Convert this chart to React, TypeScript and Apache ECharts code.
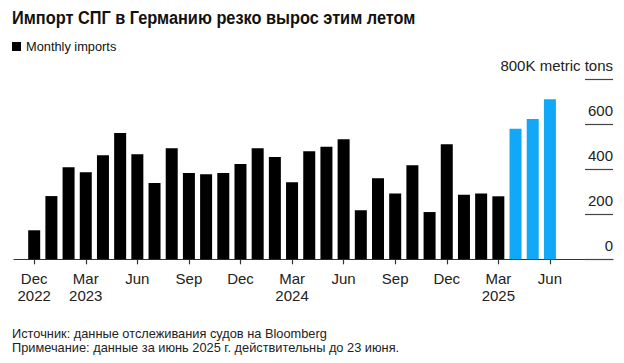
import React, { useEffect, useRef } from "react";
import * as echarts from "echarts";

const title = "Импорт СПГ в Германию резко вырос этим летом";
const seriesName = "Monthly imports";
const unitLabel = "800K metric tons";
const sourceText = "Источник: данные отслеживания судов на Bloomberg";
const noteText = "Примечание: данные за июнь 2025 г. действительны до 23 июня.";

// Months Dec 2022 .. Jun 2025
const months = [
  "2022-12",
  "2023-01", "2023-02", "2023-03", "2023-04", "2023-05", "2023-06",
  "2023-07", "2023-08", "2023-09", "2023-10", "2023-11", "2023-12",
  "2024-01", "2024-02", "2024-03", "2024-04", "2024-05", "2024-06",
  "2024-07", "2024-08", "2024-09", "2024-10", "2024-11", "2024-12",
  "2025-01", "2025-02", "2025-03", "2025-04", "2025-05", "2025-06",
];

// Thousand metric tons
const imports = [
  129,
  281, 409, 387, 462, 561, 467,
  339, 493, 384, 378, 384, 424,
  493, 455, 342, 480, 500, 533,
  218, 360, 292, 418, 210, 511,
  287, 292, 280, 580, 624, 711,
];

// months shown in blue
const highlightedMonths = ["2025-04", "2025-05", "2025-06"];

const tickMonths = [
  "2022-12", "2023-03", "2023-06", "2023-09", "2023-12", "2024-03",
  "2024-06", "2024-09", "2024-12", "2025-03", "2025-06",
];
const tickLabels = [
  "Dec\n2022", "Mar\n2023", "Jun", "Sep", "Dec", "Mar\n2024",
  "Jun", "Sep", "Dec", "Mar\n2025", "Jun",
];

const yTicks = [0, 200, 400, 600, 800];

const BLACK = "#000000";
const BLUE = "#12a8f8";
const FONT = "'Liberation Sans', Arial, Helvetica, sans-serif";

export default function App() {
  const ref = useRef<HTMLDivElement>(null);

  useEffect(() => {
    if (!ref.current) return;
    const chart = echarts.init(ref.current, undefined, { renderer: "svg" });

    const tickIdx = tickMonths.map((m) => months.indexOf(m));
    const labelByIdx: Record<number, string> = {};
    tickIdx.forEach((i, k) => (labelByIdx[i] = tickLabels[k]));

    const data = imports.map((v, i) => {
      const item: any = { value: [i, v] };
      if (highlightedMonths.includes(months[i])) item.itemStyle = { color: BLUE };
      return item;
    });

    chart.setOption({
      animation: false,
      backgroundColor: "#ffffff",
      textStyle: { fontFamily: FONT },
      legend: {
        show: true,
        left: 7,
        top: 35,
        icon: "rect",
        itemWidth: 9,
        itemHeight: 9,
        itemGap: 4,
        selectedMode: false,
        textStyle: { fontSize: 12.8, color: "#111", fontFamily: FONT },
        data: [seriesName],
      },
      grid: { left: 14, right: 11, top: 79.3, bottom: 103.7, containLabel: false },
      xAxis: {
        type: "value",
        min: -1.175,
        max: 33.67,
        splitLine: { show: false },
        axisLine: { show: true, onZero: false, lineStyle: { color: "#333", width: 1.2 } },
        axisTick: {
          show: true,
          length: 5,
          customValues: tickIdx,
          lineStyle: { color: "#333", width: 1.2 },
        },
        axisLabel: {
          show: true,
          customValues: tickIdx,
          formatter: (v: number) => labelByIdx[Math.round(v)] ?? "",
          fontSize: 15,
          lineHeight: 17,
          margin: 11,
          color: "#222",
          fontFamily: FONT,
        },
      },
      yAxis: {
        type: "value",
        position: "right",
        offset: -28,
        min: 0,
        max: 800,
        interval: 200,
        splitLine: { show: false },
        axisLine: { show: false, onZero: false },
        axisTick: {
          show: true,
          inside: false,
          length: 28,
          lineStyle: { color: "#444", width: 1.2 },
        },
        axisLabel: {
          show: true,
          inside: false,
          margin: 28,
          align: "right",
          verticalAlign: "bottom",
          padding: [0, 0, 6, 0],
          fontSize: 15,
          color: "#222",
          fontFamily: FONT,
          formatter: (v: number) => (v === yTicks[yTicks.length - 1] ? unitLabel : String(v)),
        },
      },
      series: [
        {
          name: seriesName,
          type: "bar",
          barWidth: 12,
          itemStyle: { color: BLACK },
          data,
        },
      ],
      graphic: [
        {
          type: "text",
          x: 12,
          y: 8,
          scaleX: 0.86,
          style: { text: title, fontSize: 19, fontWeight: "bold", fill: "#111", fontFamily: FONT, textVerticalAlign: "top" },
        },
        {
          type: "text",
          left: 12,
          top: 327,
          style: { text: sourceText, fontSize: 12.8, fill: "#222", fontFamily: FONT },
        },
        {
          type: "text",
          left: 12,
          top: 341,
          style: { text: noteText, fontSize: 12.8, fill: "#222", fontFamily: FONT },
        },
      ],
    });

    return () => chart.dispose();
  }, []);

  return (
    <div
      ref={ref}
      style={{ position: "fixed", left: 0, top: 0, width: 624, height: 363, background: "#fff" }}
    />
  );
}
